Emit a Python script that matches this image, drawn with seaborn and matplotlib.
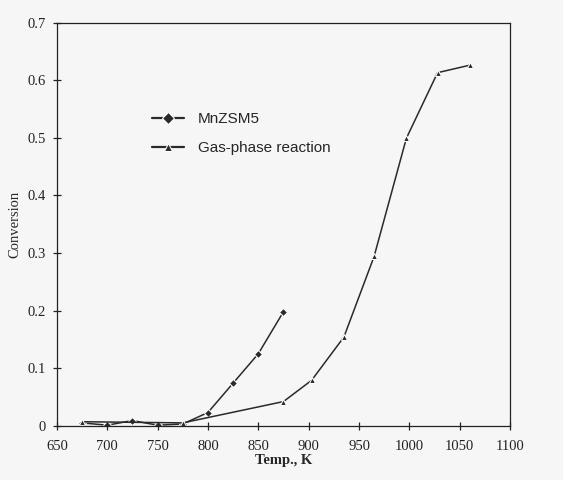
import matplotlib
matplotlib.use("Agg")
import matplotlib.pyplot as plt
import seaborn as sns
import pandas as pd

mn_temp = [675, 700, 725, 750, 775, 800, 825, 850, 875]
mn_conv = [0.005, 0.001, 0.009, 0.001, 0.003, 0.023, 0.074, 0.125, 0.198]

gas_temp = [675, 775, 875, 903, 935, 965, 997, 1028, 1060]
gas_conv = [0.007, 0.005, 0.042, 0.079, 0.154, 0.294, 0.499, 0.613, 0.626]

x_ticks = [650, 700, 750, 800, 850, 900, 950, 1000, 1050, 1100]
y_ticks = [0, 0.1, 0.2, 0.3, 0.4, 0.5, 0.6, 0.7]
y_labels = ["0", "0.1", "0.2", "0.3", "0.4", "0.5", "0.6", "0.7"]

df = pd.concat([
    pd.DataFrame({"Temp": mn_temp, "Conv": mn_conv, "Series": "MnZSM5"}),
    pd.DataFrame({"Temp": gas_temp, "Conv": gas_conv, "Series": "Gas-phase reaction"}),
])

sns.set_theme(style="white")
bg = "#f6f6f6"
fig = plt.figure(figsize=(5.63, 4.8), dpi=100, facecolor=bg)
ax = fig.add_axes([0.101, 0.113, 0.805, 0.84])
ax.set_facecolor(bg)

sns.lineplot(data=df, x="Temp", y="Conv", hue="Series", style="Series",
             markers={"MnZSM5": "D", "Gas-phase reaction": "^"}, dashes=False,
             palette={"MnZSM5": "#2a2a2a", "Gas-phase reaction": "#2a2a2a"},
             markersize=4.5, linewidth=1.1, sort=False, ax=ax, legend=True)

ax.set_xlim(650, 1100)
ax.set_ylim(0, 0.7)
ax.set_xticks(x_ticks)
ax.set_xticklabels([str(t) for t in x_ticks], family="Liberation Serif", fontsize=10.5)
ax.set_yticks(y_ticks)
ax.set_yticklabels(y_labels, family="Liberation Serif", fontsize=10.5)
ax.tick_params(axis="both", direction="inout", length=6, width=0.9, colors="#222222",
               bottom=True, left=True, top=False, right=False, pad=5)
ax.tick_params(axis="x", pad=7)
for s in ax.spines.values():
    s.set_color("#222222")
    s.set_linewidth(0.9)

ax.set_xlabel("Temp., K", family="Liberation Serif", fontsize=10.5, fontweight="bold", labelpad=1)
ax.set_ylabel("Conversion", family="Liberation Serif", fontsize=10.5, labelpad=4)

leg = ax.legend(loc="upper left", bbox_to_anchor=(0.18, 0.812), frameon=False,
                prop={"family": "Liberation Sans", "size": 11},
                handlelength=2.1, labelspacing=1.0, handletextpad=0.9)
for ln in leg.get_lines():
    ln.set_linewidth(1.6)
    ln.set_markersize(6)

fig.savefig("out.png", dpi=100, facecolor=bg)
